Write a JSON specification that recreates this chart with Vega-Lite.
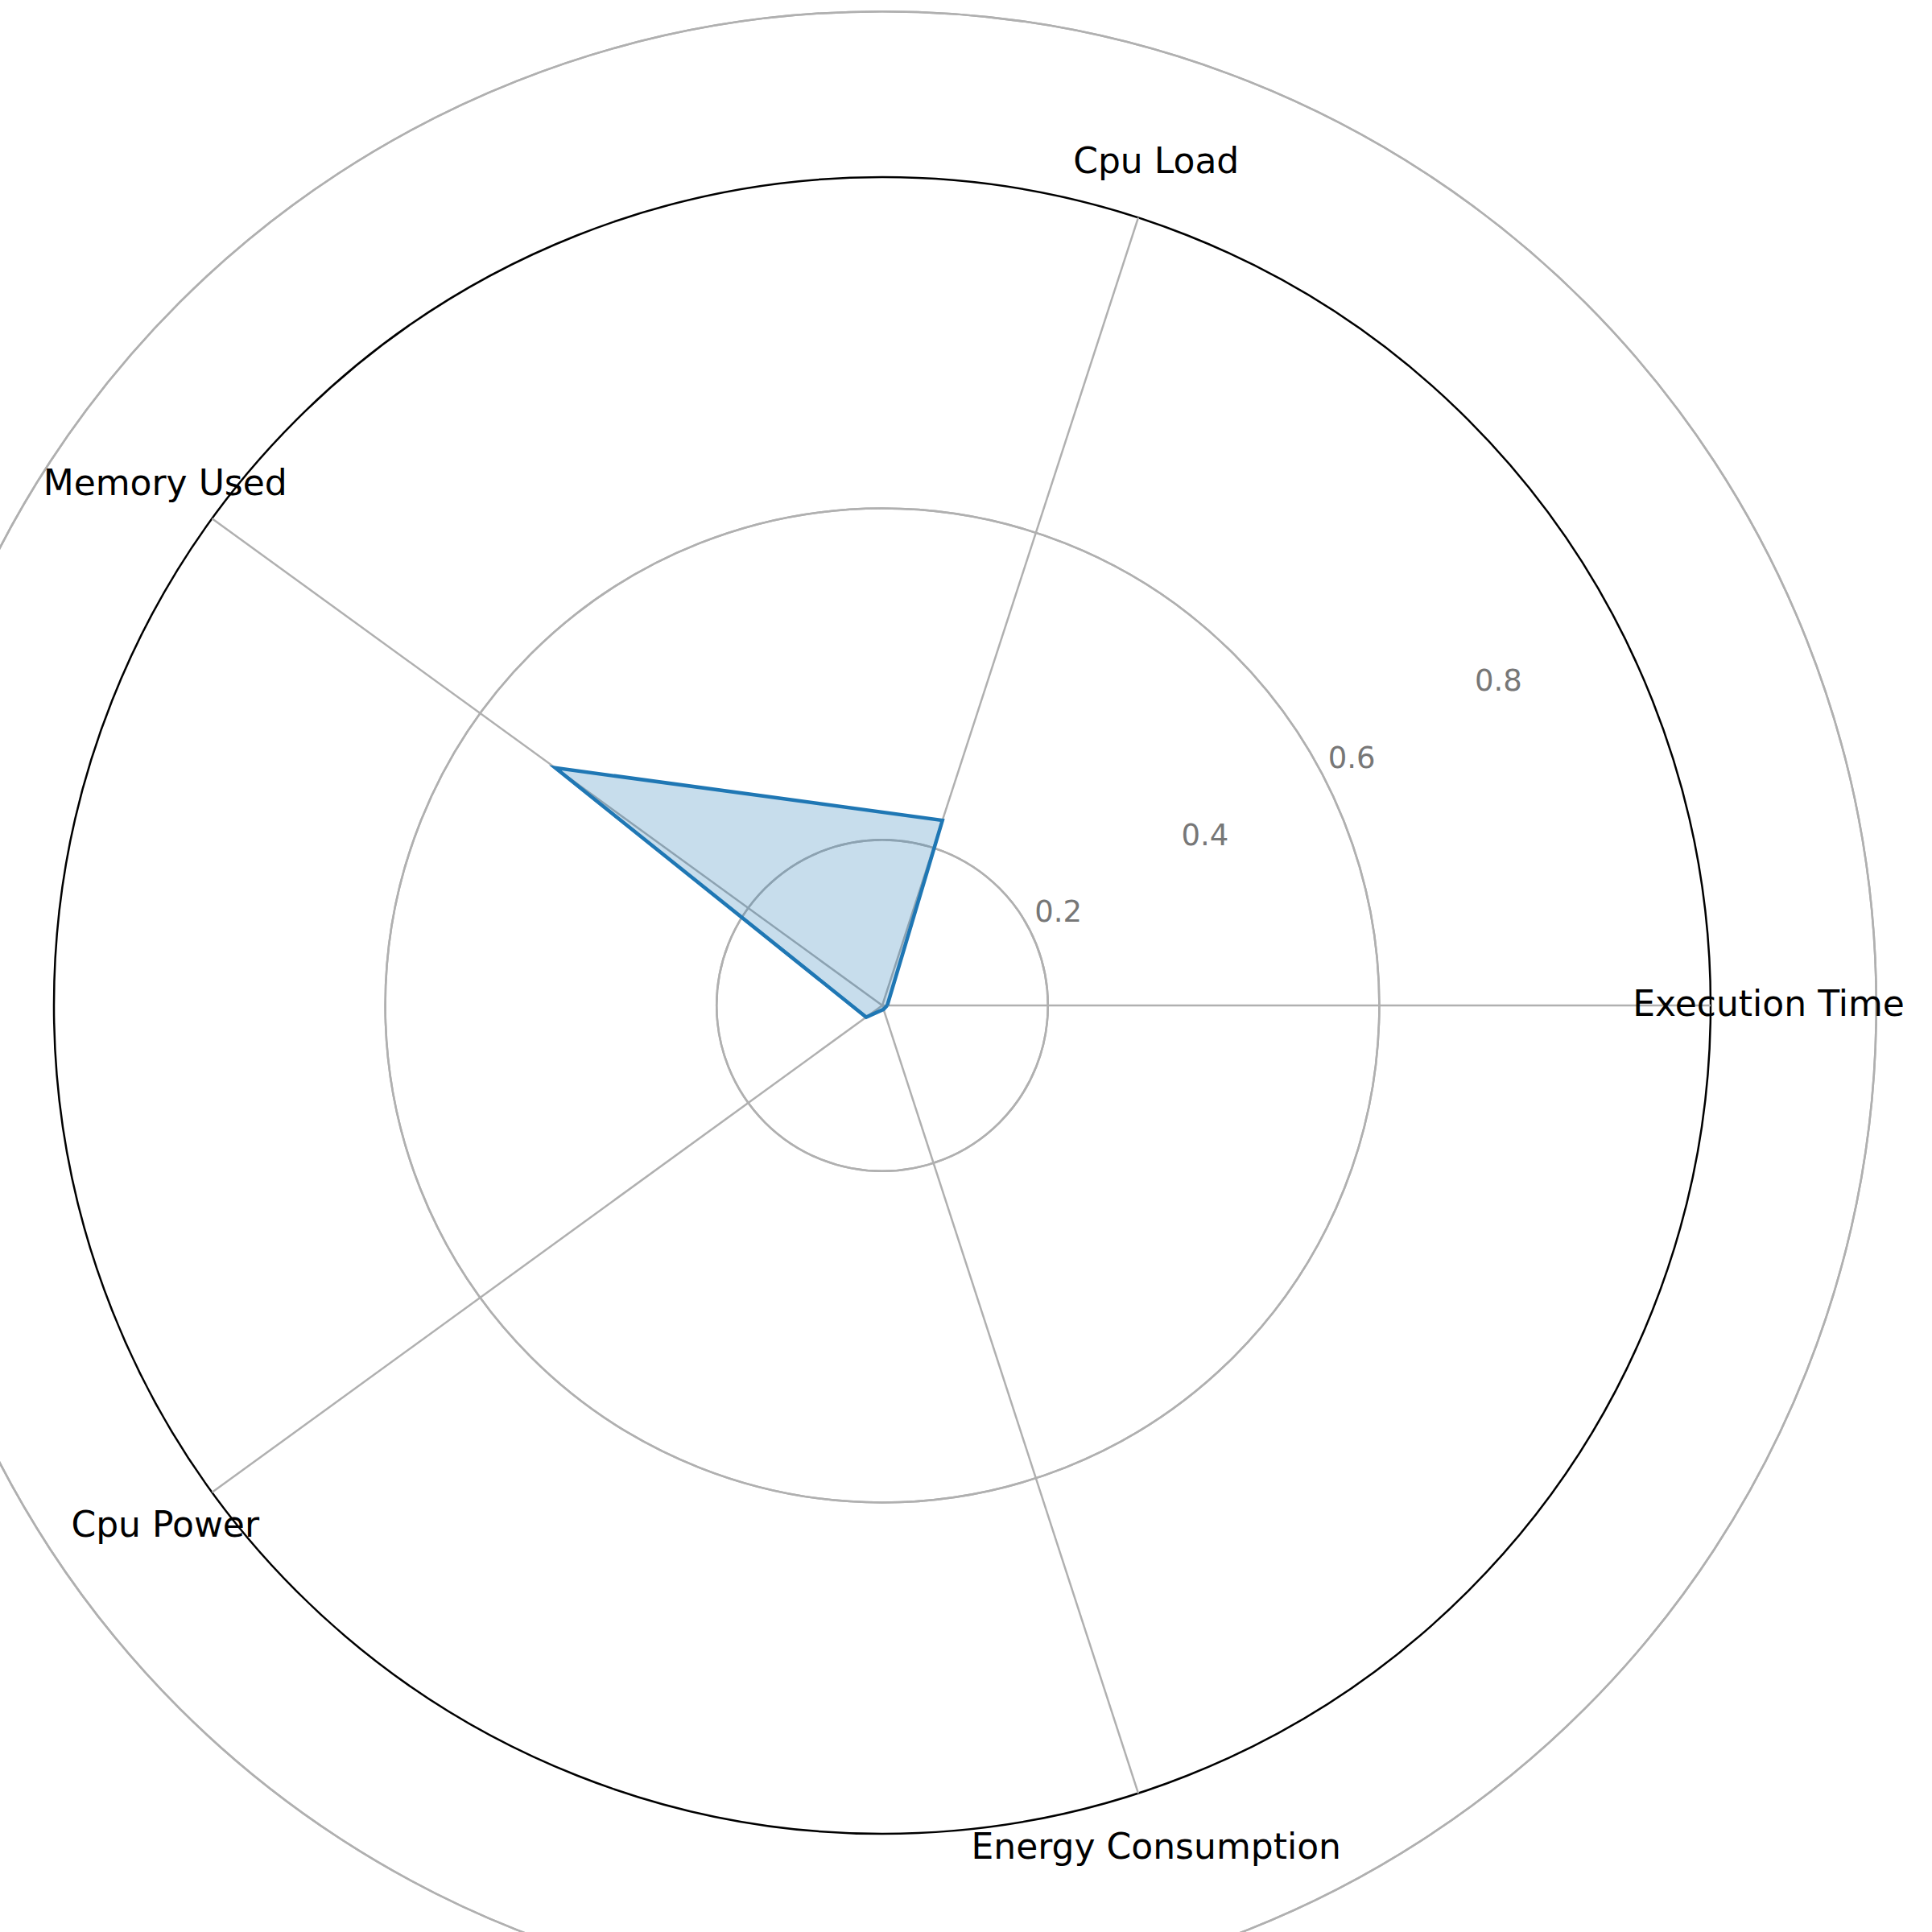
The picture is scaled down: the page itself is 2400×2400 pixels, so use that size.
{
  "$schema": "https://vega.github.io/schema/vega-lite/v6.json",
  "autosize": {"type": "none"},
  "width": 2058,
  "height": 2058,
  "padding": {"left": 67, "top": 220, "right": 275, "bottom": 122},
  "title": {"text": "TDES – Radar Performance Profile", "fontSize": 56, "font": "DejaVu Sans", "fontWeight": "normal", "offset": 70, "anchor": "middle"},
  "config": {"view": {"stroke": null}},
  "datasets": {
    "metrics": [
      {"metric": "Execution Time", "idx": 0, "value": 0.006},
      {"metric": "Cpu Load", "idx": 1, "value": 0.235},
      {"metric": "Memory Used", "idx": 2, "value": 0.488},
      {"metric": "Cpu Power", "idx": 3, "value": 0.024},
      {"metric": "Energy Consumption", "idx": 4, "value": 0.005},
      {"metric": "Execution Time", "idx": 5, "value": 0.006}
    ],
    "rings": [
      {"r": 0.2, "label": "0.2"},
      {"r": 0.4, "label": "0.4"},
      {"r": 0.6, "label": "0.6"},
      {"r": 0.8, "label": "0.8"}
    ]
  },
  "layer": [
    {
      "data": {"name": "rings"},
      "mark": {"type": "arc", "filled": false, "stroke": "#b0b0b0", "strokeWidth": 2.5, "theta": 0, "theta2": 6.2832},
      "encoding": {
        "radius": {"field": "r", "type": "quantitative", "scale": {"type": "linear", "domain": [0, 1], "range": [0, 1029], "zero": true}}
      }
    },
    {
      "data": {"values": [{"r": 1}]},
      "mark": {"type": "arc", "filled": false, "stroke": "black", "strokeWidth": 2.5, "theta": 0, "theta2": 6.2832},
      "encoding": {
        "radius": {"field": "r", "type": "quantitative", "scale": {"type": "linear", "domain": [0, 1], "range": [0, 1029], "zero": true}}
      }
    },
    {
      "data": {"name": "metrics"},
      "transform": [
        {"filter": "datum.idx < 5"},
        {"calculate": "datum.idx * 2 * PI / 5", "as": "a"},
        {"calculate": "0", "as": "x0"},
        {"calculate": "cos(datum.a)", "as": "x1"},
        {"calculate": "sin(datum.a)", "as": "y1"}
      ],
      "mark": {"type": "rule", "stroke": "#b0b0b0", "strokeWidth": 2.5},
      "encoding": {
        "x": {"field": "x0", "type": "quantitative", "scale": {"domain": [-1, 1]}, "axis": null},
        "y": {"field": "x0", "type": "quantitative", "scale": {"domain": [-1, 1]}, "axis": null},
        "x2": {"field": "x1"},
        "y2": {"field": "y1"}
      }
    },
    {
      "data": {"name": "metrics"},
      "transform": [
        {"calculate": "datum.idx * 2 * PI / 5", "as": "a"},
        {"calculate": "datum.value * cos(datum.a)", "as": "px"},
        {"calculate": "datum.value * sin(datum.a)", "as": "py"}
      ],
      "mark": {"type": "line", "stroke": "#1f77b4", "strokeWidth": 4.5, "fill": "#1f77b4", "fillOpacity": 0.25},
      "encoding": {
        "x": {"field": "px", "type": "quantitative", "scale": {"domain": [-1, 1]}, "axis": null},
        "y": {"field": "py", "type": "quantitative", "scale": {"domain": [-1, 1]}, "axis": null},
        "order": {"field": "idx"}
      }
    },
    {
      "data": {"name": "metrics"},
      "transform": [
        {"filter": "datum.idx < 5"},
        {"calculate": "datum.idx * 2 * PI / 5", "as": "a"},
        {"calculate": "1.07 * cos(datum.a)", "as": "lx"},
        {"calculate": "1.07 * sin(datum.a)", "as": "ly"}
      ],
      "mark": {"type": "text", "fontSize": 44, "font": "DejaVu Sans", "align": "center", "baseline": "middle", "color": "black"},
      "encoding": {
        "x": {"field": "lx", "type": "quantitative", "scale": {"domain": [-1, 1]}, "axis": null},
        "y": {"field": "ly", "type": "quantitative", "scale": {"domain": [-1, 1]}, "axis": null},
        "text": {"field": "metric"}
      }
    },
    {
      "data": {"name": "rings"},
      "transform": [
        {"calculate": "(datum.r + 0.04) * cos(PI / 6.5)", "as": "tx"},
        {"calculate": "(datum.r + 0.04) * sin(PI / 6.5)", "as": "ty"}
      ],
      "mark": {"type": "text", "fontSize": 37, "font": "DejaVu Sans", "align": "center", "baseline": "middle", "color": "#777777"},
      "encoding": {
        "x": {"field": "tx", "type": "quantitative", "scale": {"domain": [-1, 1]}, "axis": null},
        "y": {"field": "ty", "type": "quantitative", "scale": {"domain": [-1, 1]}, "axis": null},
        "text": {"field": "label"}
      }
    }
  ]
}
